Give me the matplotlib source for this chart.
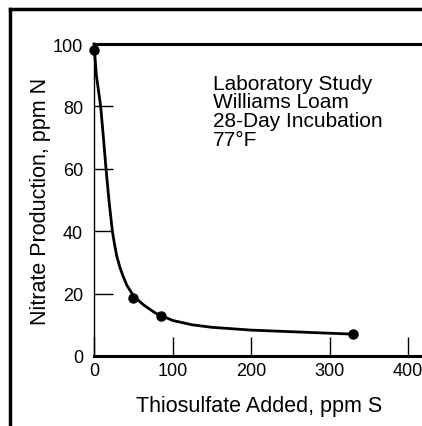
import matplotlib.pyplot as plt
from matplotlib.lines import Line2D

plt.rcParams['font.family'] = ['Liberation Sans', 'DejaVu Sans']

# measured points
thio = [0, 50, 85, 330]
nitrate = [98, 18.5, 12.8, 7]

# fitted curve
curve_x = [0, 3, 8.5, 12, 15.3, 19, 23.4, 26, 29, 33, 37, 42, 48, 55, 63, 78, 100, 125, 150, 200, 250, 300, 330]
curve_y = [100, 90, 80, 70, 60, 50, 40, 36, 32, 28.4, 25.6, 22.6, 20.2, 18.2, 16.4, 13.8, 11.4, 10.0, 9.2, 8.3, 7.8, 7.3, 7.0]

xticks = [0, 100, 200, 300, 400]
yticks = [0, 20, 40, 60, 80, 100]

fig = plt.figure(figsize=(4.22, 4.27), dpi=100)
ax = fig.add_axes([94 / 422, 70 / 427, 420 * 0.785 / 422, 312 / 427])

ax.plot(curve_x, curve_y, color='black', lw=2.0, clip_on=False,
        solid_joinstyle='round')
ax.plot(thio, nitrate, 'o', color='black', ms=6.5, clip_on=False)

ax.set_xlim(0, 420)
ax.set_ylim(0, 100)
ax.set_xticks(xticks)
ax.set_yticks(yticks)
ax.tick_params(direction='in', length=14, width=1, labelsize=13, pad=4)
ax.tick_params(axis='y', pad=8)

ax.spines['right'].set_visible(False)
ax.spines['top'].set_linewidth(2.2)
ax.spines['bottom'].set_linewidth(2.2)
ax.spines['left'].set_linewidth(1.0)

ax.set_xlabel('Thiosulfate Added, ppm S', fontsize=15.5, labelpad=12)
ax.set_ylabel('Nitrate Production, ppm N', fontsize=15.5, labelpad=1)

ax.text(0.36, 0.905, 'Laboratory Study\nWilliams Loam\n28-Day Incubation\n77°F',
        transform=ax.transAxes, fontsize=15, va='top', ha='left', linespacing=0.98)

# outer frame of the scanned figure
fig.add_artist(Line2D([10 / 422, 10 / 422], [0, 1 - 10 / 427], color='black', lw=2.5))
fig.add_artist(Line2D([10 / 422, 1], [1 - 10 / 427, 1 - 10 / 427], color='black', lw=2.5))

fig.savefig('out.png', dpi=100)
